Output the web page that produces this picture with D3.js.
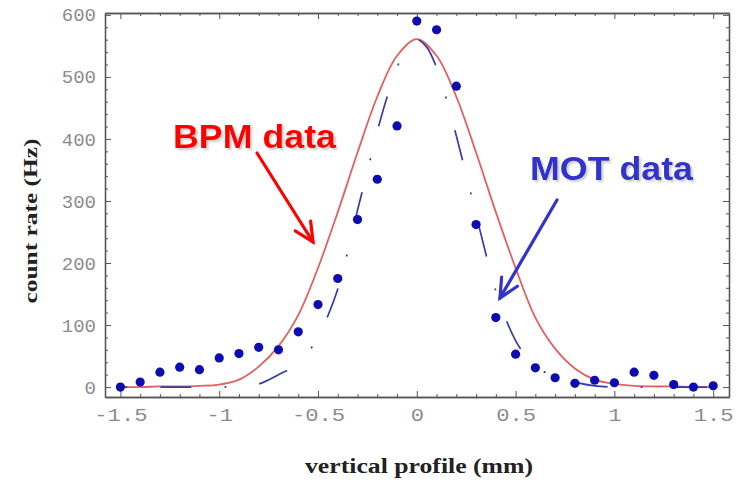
<!DOCTYPE html>
<html>
<head>
<meta charset="utf-8">
<script src="https://cdn.jsdelivr.net/npm/d3@7"></script>
<style>
  body { margin: 0; background: #fff; }
  svg { display: block; }
</style>
</head>
<body>
<script>
// MOT measured points (x in mm, count rate in Hz)
const motX = [-1.5, -1.4, -1.3, -1.2, -1.1, -1.0, -0.9, -0.8, -0.7, -0.6, -0.5, -0.4, -0.3, -0.2, -0.1,
  0, 0.1, 0.2, 0.3, 0.4, 0.5, 0.6, 0.7, 0.8, 0.9, 1.0, 1.1, 1.2, 1.3, 1.4, 1.5];
const motCounts = [0, 8, 24, 32, 28, 47, 54, 64, 60, 89, 133, 175, 270, 335, 421,
  590, 576, 485, 262, 112, 53, 31, 15, 6, 11, 7, 24, 19, 4, 0, 2];

// BPM curve (red, solid)
const bpmX = [-1.5, -1.4, -1.3, -1.2, -1.1, -1.0, -0.9, -0.8, -0.7, -0.6, -0.5, -0.4, -0.3, -0.2, -0.1,
  0, 0.1, 0.2, 0.3, 0.4, 0.5, 0.6, 0.7, 0.8, 0.9, 1.0, 1.1, 1.2, 1.3, 1.4, 1.5];
const bpmCurve = [0, 0, 1, 1, 2, 4, 12, 33, 66, 116, 192, 282, 378, 468, 534,
  561, 534, 468, 378, 282, 192, 112, 62, 30, 12, 5, 2, 1, 1, 0, 0];

// MOT fit curve (blue, dash-dot)
const motFitX = [-1.5, -1.4, -1.3, -1.2, -1.1, -1.0, -0.9, -0.8, -0.7, -0.6, -0.5, -0.45, -0.4, -0.35, -0.3,
  -0.25, -0.2, -0.15, -0.1, -0.05, 0, 0.05, 0.1, 0.15, 0.2, 0.25, 0.3, 0.35, 0.4, 0.45, 0.5, 0.55, 0.6,
  0.7, 0.8, 0.9, 1.0, 1.1, 1.2, 1.3, 1.4, 1.5];
const motFit = [0, 0, 0, 0, 0, 0, 1, 5, 20, 38, 80, 115, 158, 218, 285,
  348, 412, 468, 515, 548, 560, 548, 515, 464, 405, 342, 278, 214, 155, 110, 75, 50, 32,
  18, 8, 2, 0, 0, 0, 0, 0, 0];

const xTicks = [-1.5, -1, -0.5, 0, 0.5, 1, 1.5];
const xTickLabels = ['-1.5', '-1', '-0.5', '0', '0.5', '1', '1.5'];
const xMinor = [-1.4, -1.3, -1.2, -1.1, -0.9, -0.8, -0.7, -0.6, -0.4, -0.3, -0.2, -0.1,
  0.1, 0.2, 0.3, 0.4, 0.6, 0.7, 0.8, 0.9, 1.1, 1.2, 1.3, 1.4];
const yTicks = [0, 100, 200, 300, 400, 500, 600];
const yMinor = [20, 40, 60, 80, 120, 140, 160, 180, 220, 240, 260, 280, 320, 340, 360, 380,
  420, 440, 460, 480, 520, 540, 560, 580];

const width = 739;
const height = 481;
const frame = { left: 105, right: 729, top: 13, bottom: 397 };

const svg = d3.select('body').append('svg').attr('width', width).attr('height', height);

// soft grey shadow for the big annotations
svg.append('defs').append('filter').attr('id', 'shadow')
  .attr('x', '-10%').attr('y', '-20%').attr('width', '130%').attr('height', '150%')
  .append('feDropShadow')
    .attr('dx', 2).attr('dy', 2).attr('stdDeviation', 0.8)
    .attr('flood-color', '#999').attr('flood-opacity', 0.5);

const x = d3.scaleLinear().domain([-1.578, 1.58]).range([frame.left, frame.right]);
const y = d3.scaleLinear().domain([-16, 603]).range([frame.bottom, frame.top]);

// frame axes, ticks pointing inward on all four sides
const axisColor = '#555';
function styleAxis(g) {
  g.select('.domain').attr('stroke', axisColor).attr('stroke-width', 1.3);
  g.selectAll('.tick line').attr('stroke', axisColor);
  g.selectAll('text').attr('fill', '#8c8c8c').attr('font-family', 'Liberation Mono, monospace').attr('font-size', 19);
}

const bottom = svg.append('g').attr('transform', `translate(0,${frame.bottom})`)
  .call(d3.axisBottom(x).tickValues(xTicks).tickFormat((d, i) => xTickLabels[i])
    .tickSizeInner(-6).tickSizeOuter(0).tickPadding(11));
styleAxis(bottom);
bottom.selectAll('text')
  .attr('textLength', (d, i) => xTickLabels[i].length * 13.3)
  .attr('lengthAdjust', 'spacingAndGlyphs');
svg.append('g').attr('transform', `translate(0,${frame.bottom})`)
  .call(d3.axisBottom(x).tickValues(xMinor).tickFormat('').tickSizeInner(-3).tickSizeOuter(0))
  .call(styleAxis);

svg.append('g').attr('transform', `translate(0,${frame.top})`)
  .call(d3.axisTop(x).tickValues(xTicks).tickFormat('').tickSizeInner(-6).tickSizeOuter(0))
  .call(styleAxis);
svg.append('g').attr('transform', `translate(0,${frame.top})`)
  .call(d3.axisTop(x).tickValues(xMinor).tickFormat('').tickSizeInner(-3).tickSizeOuter(0))
  .call(styleAxis);

svg.append('g').attr('transform', `translate(${frame.left},0)`)
  .call(d3.axisLeft(y).tickValues(yTicks).tickFormat(d3.format('d'))
    .tickSizeInner(-6).tickSizeOuter(0).tickPadding(9))
  .call(styleAxis);
svg.append('g').attr('transform', `translate(${frame.left},0)`)
  .call(d3.axisLeft(y).tickValues(yMinor).tickFormat('').tickSizeInner(-3).tickSizeOuter(0))
  .call(styleAxis);

svg.append('g').attr('transform', `translate(${frame.right},0)`)
  .call(d3.axisRight(y).tickValues(yTicks).tickFormat('').tickSizeInner(-6).tickSizeOuter(0))
  .call(styleAxis);
svg.append('g').attr('transform', `translate(${frame.right},0)`)
  .call(d3.axisRight(y).tickValues(yMinor).tickFormat('').tickSizeInner(-3).tickSizeOuter(0))
  .call(styleAxis);

// curves
const line = d3.line().x(d => x(d[0])).y(d => y(d[1])).curve(d3.curveCatmullRom);

svg.append('path')
  .datum(bpmX.map((v, i) => [v, bpmCurve[i]]))
  .attr('d', line)
  .attr('fill', 'none')
  .attr('stroke', '#e2605f')
  .attr('stroke-width', 1.8);

const motPath = svg.append('path')
  .datum(motFitX.map((v, i) => [v, motFit[i]]))
  .attr('d', line)
  .attr('fill', 'none')
  .attr('stroke', '#3b3ba6')
  .attr('stroke-width', 1.7)
  .attr('stroke-dasharray', '31,33,2,33');

// line up the dash pattern so one dash ends near x = -0.15
const node = motPath.node();
const total = node.getTotalLength();
let L0 = 0;
for (let l = 0; l < total; l += 0.5) {
  if (node.getPointAtLength(l).x >= x(-0.15)) { L0 = l; break; }
}
motPath.attr('stroke-dashoffset', ((31 - L0) % 99 + 99) % 99);

svg.append('g').selectAll('circle')
  .data(motX)
  .enter().append('circle')
    .attr('cx', d => x(d))
    .attr('cy', (d, i) => y(motCounts[i]))
    .attr('r', 4.6)
    .attr('fill', '#0c0cb0');

// axis titles
svg.append('text')
  .attr('x', 419).attr('y', 473)
  .attr('text-anchor', 'middle')
  .attr('font-family', 'Liberation Serif, serif')
  .attr('font-weight', 'bold')
  .attr('font-size', 20)
  .attr('fill', '#222')
  .attr('textLength', 228).attr('lengthAdjust', 'spacingAndGlyphs')
  .text('vertical profile (mm)');

svg.append('text')
  .attr('transform', 'translate(37,221) rotate(-90)')
  .attr('text-anchor', 'middle')
  .attr('font-family', 'Liberation Serif, serif')
  .attr('font-weight', 'bold')
  .attr('font-size', 19)
  .attr('fill', '#222')
  .attr('textLength', 165).attr('lengthAdjust', 'spacingAndGlyphs')
  .text('count rate (Hz)');

// annotations
function label(txt, lx, ly, color) {
  svg.append('text')
    .attr('x', lx).attr('y', ly)
    .attr('font-family', 'Liberation Sans, Arial, sans-serif')
    .attr('font-weight', 'bold').attr('font-size', 33)
    .attr('fill', color)
    .attr('filter', 'url(#shadow)')
    .attr('textLength', 163).attr('lengthAdjust', 'spacingAndGlyphs')
    .text(txt);
}
function arrow(x1, y1, x2, y2, color) {
  const a = Math.atan2(y2 - y1, x2 - x1);
  const len = 21;
  const spread = 0.45;
  const g = svg.append('g').attr('stroke', color).attr('stroke-width', 3.2)
    .attr('fill', 'none').attr('stroke-linecap', 'round');
  g.append('line').attr('x1', x1).attr('y1', y1).attr('x2', x2).attr('y2', y2);
  g.append('path').attr('d',
    `M${x2 - len * Math.cos(a - spread)},${y2 - len * Math.sin(a - spread)}` +
    `L${x2},${y2}` +
    `L${x2 - len * Math.cos(a + spread)},${y2 - len * Math.sin(a + spread)}`);
}

label('BPM data', 173, 148, '#ff0000');
arrow(257, 153, 313, 242, '#ff0000');
label('MOT data', 530, 180, '#3333cc');
arrow(557, 200, 500, 298, '#3333cc');
</script>
</body>
</html>
